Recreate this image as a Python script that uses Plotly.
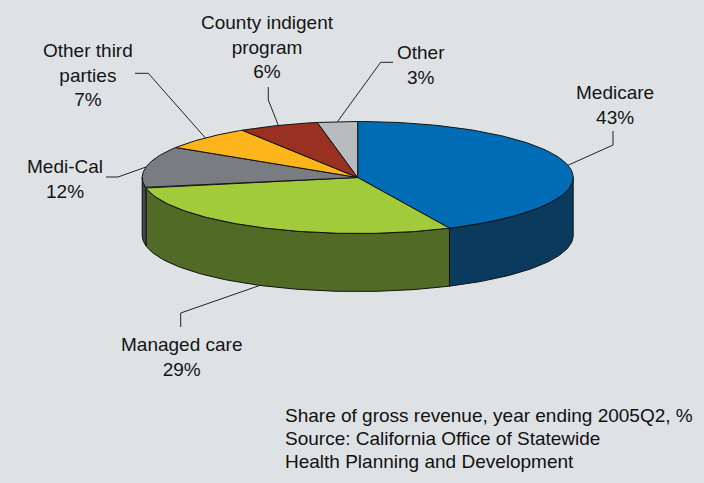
import numpy as np
import plotly.graph_objects as go

# ---- data ----
categories = ["Medicare", "Managed care", "Medi-Cal", "Other third<br>parties",
              "County indigent<br>program", "Other"]
shares = [43, 29, 12, 7, 6, 3]
top_colors = ["#006cb5", "#a2cb3b", "#797c80", "#fdb51b", "#9a3022", "#b9bcbf"]
side_colors = ["#0b3a5f", "#516a26", "#45474a", "#9a6e10", "#5a1c14", "#7d8083"]
note_lines = ["Share of gross revenue, year ending 2005Q2, %",
              "Source: California Office of Statewide",
              "Health Planning and Development"]

# ---- layout geometry (pixels) ----
W, H = 704, 483
BG = "#dfe2e5"
CX, CY, RX, RY, DEPTH = 357.7, 177.5, 215.5, 56.0, 58.0
FONT = "Liberation Sans, Arial, sans-serif"

# label centre positions and leader elbows (layout only)
label_pos = [(615, 105), (181, 357), (65, 179), (88, 75), (267, 47), (421, 65)]
elbows = [[(613, 131), (613, 145)],
          [(180.7, 327), (180.7, 313)],
          [(106, 177), (118, 177)],
          [(135, 73.3), (148.3, 73.3)],
          [(268.3, 87), (268.3, 100)],
          [(393, 62.3), (380.7, 62.3)]]
note_x = 283
note_y = [415.7, 438.5, 461.3]


def pt(t, dy=0.0):
    r = np.radians(t)
    return CX + RX * np.sin(r), CY - RY * np.cos(r) + dy


fig = go.Figure()
total = float(sum(shares))
bounds = np.concatenate([[0], np.cumsum(shares) / total * 360.0])

# walls (front half only: 90..270 deg clockwise from top)
for i in range(len(shares)):
    a1, a2 = bounds[i], bounds[i + 1]
    lo, hi = max(a1, 90), min(a2, 270)
    if hi <= lo:
        continue
    ts = np.linspace(lo, hi, 80)
    xs_t, ys_t = pt(ts)
    xs_b, ys_b = pt(ts[::-1], DEPTH)
    xs = np.concatenate([xs_t, xs_b, xs_t[:1]])
    ys = np.concatenate([ys_t, ys_b, ys_t[:1]])
    fig.add_trace(go.Scatter(x=xs, y=ys, mode="lines", fill="toself",
                             fillcolor=side_colors[i],
                             line=dict(color="#111111", width=1),
                             hoverinfo="skip", showlegend=False))

# top faces
for i in range(len(shares)):
    a1, a2 = bounds[i], bounds[i + 1]
    ts = np.linspace(a1, a2, 120)
    xa, ya = pt(ts)
    xs = np.concatenate([[CX], xa, [CX]])
    ys = np.concatenate([[CY], ya, [CY]])
    fig.add_trace(go.Scatter(x=xs, y=ys, mode="lines", fill="toself",
                             fillcolor=top_colors[i],
                             line=dict(color="#111111", width=1),
                             hoverinfo="skip", showlegend=False))

# leader lines and labels
for i in range(len(shares)):
    mid = (bounds[i] + bounds[i + 1]) / 2
    dy = DEPTH if 90 < mid < 270 else 0.0
    ax, ay = pt(mid, dy)
    (ex0, ey0), (ex1, ey1) = elbows[i]
    fig.add_trace(go.Scatter(x=[ex0, ex1, ax], y=[ey0, ey1, ay], mode="lines",
                             line=dict(color="#222222", width=1),
                             hoverinfo="skip", showlegend=False))
    lx, ly = label_pos[i]
    fig.add_annotation(x=lx, y=ly, xref="x", yref="y", showarrow=False,
                       text=f"{categories[i]}<br>{shares[i]}%",
                       align="center", xanchor="center", yanchor="middle",
                       font=dict(family=FONT, size=19, color="#141414"))

for txt, ny in zip(note_lines, note_y):
    fig.add_annotation(x=note_x, y=ny, xref="x", yref="y", showarrow=False,
                       text=txt, align="left", xanchor="left", yanchor="middle",
                       font=dict(family=FONT, size=19, color="#111111"))

fig.update_layout(
    width=W, height=H, margin=dict(l=0, r=0, t=0, b=0),
    paper_bgcolor=BG, plot_bgcolor=BG,
    xaxis=dict(range=[0, W], visible=False, fixedrange=True),
    yaxis=dict(range=[H, 0], visible=False, fixedrange=True),
)
fig.write_html("out.html", config={"displayModeBar": False},
               post_script="document.body.style.margin='0';"
                           "document.body.style.padding='0';"
                           "document.body.style.overflow='hidden';")
